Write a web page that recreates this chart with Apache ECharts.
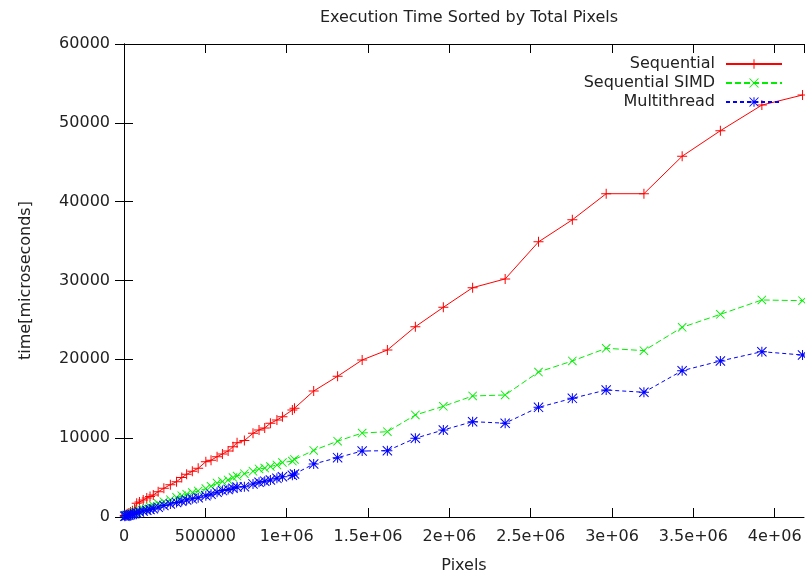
<!DOCTYPE html>
<html><head><meta charset="utf-8">
<script src="https://cdn.jsdelivr.net/npm/echarts@6/dist/echarts.min.js"></script>
<style>html,body{margin:0;padding:0;background:#fff}#c{width:805px;height:577px}</style>
</head><body><div id="c"></div>
<script>
var pixels = [5000, 12000, 20000, 30000, 40000, 52000, 65000, 78000, 95000, 118000, 140000, 160000, 180000, 210000, 245000, 285000, 323000, 355000, 385000, 420000, 456000, 503000, 535000, 572000, 605000, 640000, 670000, 695000, 740000, 793000, 830000, 865000, 900000, 940000, 974000, 1035000, 1048000, 1166000, 1313000, 1464000, 1619000, 1791000, 1963000, 2143000, 2343000, 2548000, 2756000, 2964000, 3196000, 3431000, 3666000, 3921000, 4171000];
var sequential = [200, 300, 420, 520, 650, 800, 1000, 1740, 1900, 2160, 2400, 2600, 2790, 3200, 3640, 4100, 4480, 5000, 5410, 5800, 6170, 7020, 7200, 7650, 8000, 8370, 8900, 9425, 9700, 10618, 11040, 11300, 11890, 12300, 12720, 13570, 13800, 15980, 17850, 19920, 21180, 24140, 26600, 29090, 30200, 34900, 37700, 41010, 41010, 45760, 49000, 52250, 53530];
var simd = [120, 180, 250, 300, 380, 450, 550, 700, 850, 1000, 1150, 1300, 1450, 1700, 1950, 2200, 2500, 2700, 2900, 3100, 3300, 3600, 3900, 4300, 4500, 4700, 5000, 5200, 5500, 5800, 6100, 6200, 6400, 6600, 6900, 7100, 7300, 8450, 9620, 10650, 10820, 12940, 14040, 15350, 15480, 18390, 19790, 21400, 21100, 24060, 25710, 27530, 27440];
var multithread = [80, 130, 180, 220, 280, 330, 400, 500, 620, 750, 850, 950, 1050, 1250, 1450, 1650, 1850, 2000, 2150, 2300, 2450, 2700, 2900, 3150, 3350, 3500, 3650, 3800, 3850, 4200, 4400, 4550, 4700, 4900, 5100, 5300, 5450, 6720, 7530, 8370, 8410, 9990, 11040, 12090, 11900, 13910, 15050, 16110, 15820, 18560, 19790, 20970, 20550];
var seriesNames = ['Sequential', 'Sequential SIMD', 'Multithread'];
var yTicks = [0, 10000, 20000, 30000, 40000, 50000, 60000];

function pairs(xs, ys){ return xs.map(function(x,i){ return [x, ys[i]]; }); }
var PLUS = 'path://M4.5,0h1v10h-1zM0,4.5h10v1h-10z';
var CROSS = 'path://M0,0.7L0.7,0L10,9.3L9.3,10ZM9.3,0L10,0.7L0.7,10L0,9.3Z';
var STAR = 'path://M4.5,0h1v10h-1zM0,4.5h10v1h-10zM0,0.7L0.7,0L10,9.3L9.3,10ZM9.3,0L10,0.7L0.7,10L0,9.3Z';
var font = 'DejaVu Sans, Verdana, sans-serif';
function xfmt(v){ if (v === 0) return '0'; if (v < 1e6) return String(v); return (v/1e6) + 'e+06'; }

var chart = echarts.init(document.getElementById('c'), null, {renderer:'canvas'});
var axisCommon = {
  type:'value', min:0, max:4180000, interval:500000,
  axisLine:{show:true, onZero:false, lineStyle:{color:'#000', width:1}},
  axisTick:{show:true, inside:true, length:9, lineStyle:{color:'#000'}},
  splitLine:{show:false}
};
chart.setOption({
  animation:false,
  backgroundColor:'#fff',
  title:{text:'Execution Time Sorted by Total Pixels', left:464, top:5, textAlign:'center',
    textStyle:{fontFamily:font, fontSize:16, fontWeight:'normal', color:'#222'}},
  grid:{left:124, right:1, top:44, bottom:60, outerBoundsMode:'none', containLabel:false},
  legend:{orient:'vertical', right:22, top:56, padding:0, align:'right', itemWidth:56, itemHeight:12, itemGap:3,
    textStyle:{fontFamily:font, fontSize:16, lineHeight:16, color:'#222', padding:[0,6,0,0]},
    data:seriesNames},
  xAxis:[
    Object.assign({}, axisCommon, {position:'bottom', name:'Pixels', nameLocation:'middle', nameGap:41,
      nameTextStyle:{fontFamily:font, fontSize:16, color:'#222'},
      axisLabel:{formatter:xfmt, fontFamily:font, fontSize:16, color:'#222', margin:12, showMaxLabel:false}}),
    Object.assign({}, axisCommon, {position:'top', axisLabel:{show:false}})
  ],
  yAxis:[
    {type:'value', min:yTicks[0], max:yTicks[yTicks.length-1], interval:10000, position:'left',
      name:'time[microseconds]', nameLocation:'middle', nameGap:90, nameRotate:90,
      nameTextStyle:{fontFamily:font, fontSize:16, color:'#222'},
      axisLine:{show:true, lineStyle:{color:'#000'}},
      axisTick:{show:true, inside:true, length:9, lineStyle:{color:'#000'}},
      axisLabel:{formatter:function(v){return String(v);}, fontFamily:font, fontSize:16, color:'#222', margin:14},
      splitLine:{show:false}},
    {type:'value', min:yTicks[0], max:yTicks[yTicks.length-1], interval:10000, position:'right',
      axisLine:{show:true, lineStyle:{color:'#000'}},
      axisTick:{show:true, inside:true, length:9, lineStyle:{color:'#000'}},
      axisLabel:{show:false}, splitLine:{show:false}}
  ],
  series:[
    {name:seriesNames[0], type:'line', data:pairs(pixels, sequential), symbol:PLUS, symbolSize:10,
      lineStyle:{color:'#ff0000', width:1}, itemStyle:{color:'#ff0000'}, showAllSymbol:true},
    {name:seriesNames[1], type:'line', data:pairs(pixels, simd), symbol:CROSS, symbolSize:9,
      lineStyle:{color:'#00ee00', width:1, type:[6,3]}, itemStyle:{color:'#00ee00'}, showAllSymbol:true},
    {name:seriesNames[2], type:'line', data:pairs(pixels, multithread), symbol:STAR, symbolSize:10,
      lineStyle:{color:'#0000ff', width:1, type:[4,3]}, itemStyle:{color:'#0000ff'}, showAllSymbol:true}
  ]
});
</script></body></html>
